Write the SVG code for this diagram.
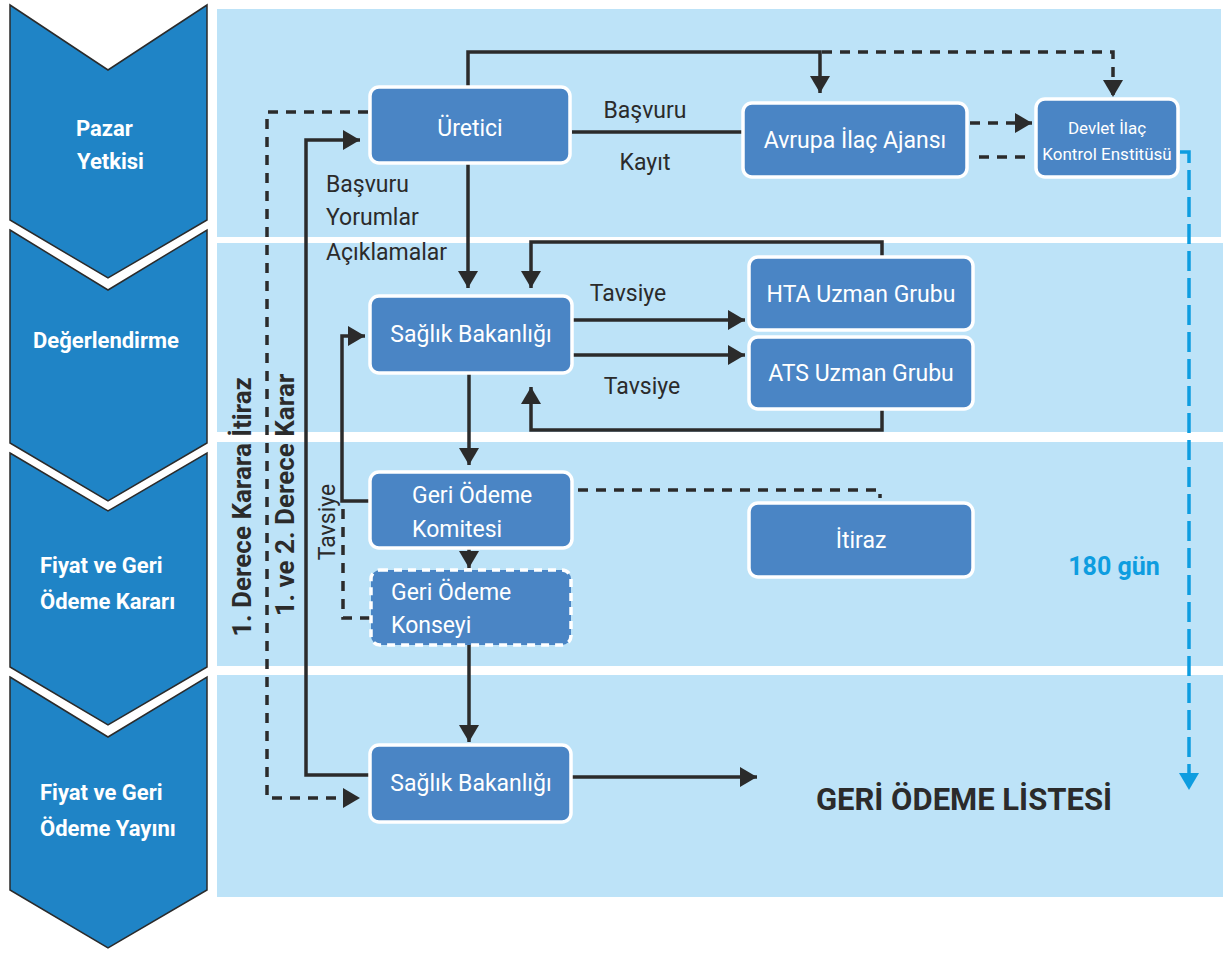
<svg xmlns="http://www.w3.org/2000/svg" width="1223" height="954" viewBox="0 0 1223 954">
  <style>
    .band { fill: #bde3f8; }
    .chev { fill: #1f84c6; stroke: #2b2b2b; stroke-width: 1.5; }
    .chevtxt { font-family: Roboto, "Liberation Sans", sans-serif; font-weight: bold; font-size: 22px; fill: #ffffff; }
    .box { fill: #4a85c5; stroke: #ffffff; stroke-width: 3.5; }
    .boxdash { fill: #4a85c5; stroke: #ffffff; stroke-width: 3.5; stroke-dasharray: 8 6; }
    .ntxt { font-family: Roboto, "Liberation Sans", sans-serif; font-size: 23px; fill: #ffffff; }
    .small { font-size: 17px; }
    .lbl { font-family: Roboto, "Liberation Sans", sans-serif; font-size: 23px; fill: #2b2b2b; }
    .vlbl { font-family: Roboto, "Liberation Sans", sans-serif; font-weight: bold; font-size: 26px; fill: #2b2b2b; }
    .line { fill: none; stroke: #2b2b2b; stroke-width: 3.5; }
    .dash { fill: none; stroke: #2b2b2b; stroke-width: 3.5; stroke-dasharray: 10 8; }
    .blue { fill: none; stroke: #0e9de0; stroke-width: 3.5; stroke-dasharray: 20 7; }
  </style>
  <defs>
    <marker id="arr" markerUnits="userSpaceOnUse" markerWidth="18" markerHeight="20" refX="17" refY="10" orient="auto">
      <path d="M0,0 L17,10 L0,20 Z" fill="#2b2b2b"/>
    </marker>
    <marker id="arrBlue" markerUnits="userSpaceOnUse" markerWidth="18" markerHeight="20" refX="17" refY="10" orient="auto">
      <path d="M0,0 L17,10 L0,20 Z" fill="#0e9de0"/>
    </marker>
  </defs>

  <rect width="1223" height="954" fill="#ffffff"/>

  <!-- stage bands -->
  <g id="bands">
    <rect class="band" x="217" y="9" width="1004" height="228"/>
    <rect class="band" x="217" y="243" width="1006" height="189"/>
    <rect class="band" x="217" y="442" width="1006" height="224"/>
    <rect class="band" x="217" y="675" width="1006" height="222"/>
  </g>

  <!-- stage chevrons -->
  <g id="stage-pazar">
    <path class="chev" d="M10,5 L108,70 L207,5 L207,220 L108,278 L10,220 Z"/>
    <text class="chevtxt" x="76" y="136">Pazar</text>
    <text class="chevtxt" x="77" y="169">Yetkisi</text>
  </g>
  <g id="stage-degerlendirme">
    <path class="chev" d="M10,230 L108,290 L207,230 L207,443 L108,501 L10,443 Z"/>
    <text class="chevtxt" x="33" y="348">Değerlendirme</text>
  </g>
  <g id="stage-karar">
    <path class="chev" d="M10,453 L108,511 L207,453 L207,667 L108,725 L10,667 Z"/>
    <text class="chevtxt" x="40" y="573">Fiyat ve Geri</text>
    <text class="chevtxt" x="40" y="609">Ödeme Kararı</text>
  </g>
  <g id="stage-yayin">
    <path class="chev" d="M10,677 L108,737 L207,677 L207,890 L108,948 L10,890 Z"/>
    <text class="chevtxt" x="40" y="800">Fiyat ve Geri</text>
    <text class="chevtxt" x="40" y="836">Ödeme Yayını</text>
  </g>

  <!-- connectors -->
  <g id="connectors">
    <!-- Üretici to Avrupa İlaç Ajansı (over the top) -->
    <path class="line" d="M468,87 V52 H820 V93" marker-end="url(#arr)"/>
    <path class="dash" d="M822,52 H1113 V97" marker-end="url(#arr)"/>
    <!-- Üretici – Avrupa İlaç Ajansı -->
    <path class="line" d="M572,132 H743"/>
    <!-- Avrupa İlaç Ajansı – Devlet İlaç Kontrol Enstitüsü -->
    <path class="dash" d="M970,123 H1032" marker-end="url(#arr)"/>
    <path class="dash" d="M979,157 H1027"/>
    <!-- 180 day track -->
    <path class="blue" d="M1180,152 H1189 V790" marker-end="url(#arrBlue)"/>
    <!-- Üretici to Sağlık Bakanlığı -->
    <path class="line" d="M468,163 V288" marker-end="url(#arr)"/>
    <!-- expert groups loops -->
    <path class="line" d="M882,257 V242 H531 V288" marker-end="url(#arr)"/>
    <path class="line" d="M572,320 H745" marker-end="url(#arr)"/>
    <path class="line" d="M572,355 H745" marker-end="url(#arr)"/>
    <path class="line" d="M882,409 V430 H531 V387" marker-end="url(#arr)"/>
    <!-- main vertical flow -->
    <path class="line" d="M469,373 V465" marker-end="url(#arr)"/>
    <path class="line" d="M469,530 V568" marker-end="url(#arr)"/>
    <path class="line" d="M469,645 V742" marker-end="url(#arr)"/>
    <!-- Geri Ödeme Komitesi back to Sağlık Bakanlığı -->
    <path class="line" d="M370,501 H342 V336 H365" marker-end="url(#arr)"/>
    <path class="dash" d="M370,618 H343 V503"/>
    <!-- Geri Ödeme Komitesi to İtiraz -->
    <path class="dash" d="M578,490 H880 V498"/>
    <!-- appeal routes -->
    <path class="line" d="M370,775 H306 V140 H360" marker-end="url(#arr)"/>
    <path class="dash" d="M368,112 H267 V798 H360" marker-end="url(#arr)"/>
    <!-- publication -->
    <path class="line" d="M571,777 H757" marker-end="url(#arr)"/>
  </g>

  <!-- connector labels -->
  <g id="labels">
    <text class="lbl" x="645" y="118" text-anchor="middle">Başvuru</text>
    <text class="lbl" x="645" y="170" text-anchor="middle">Kayıt</text>
    <text class="lbl" x="326" y="192">Başvuru</text>
    <text class="lbl" x="326" y="225">Yorumlar</text>
    <text class="lbl" x="326" y="260">Açıklamalar</text>
    <text class="lbl" x="628" y="301" text-anchor="middle">Tavsiye</text>
    <text class="lbl" x="642" y="394" text-anchor="middle">Tavsiye</text>
    <text class="lbl" transform="translate(335,522) rotate(-90)" text-anchor="middle">Tavsiye</text>
    <text class="vlbl" font-size="27.5" transform="translate(251,507) rotate(-90)" text-anchor="middle">1. Derece Karara İtiraz</text>
    <text class="vlbl" transform="translate(294,495) rotate(-90)" text-anchor="middle">1. ve 2. Derece Karar</text>
    <text x="1114" y="575" text-anchor="middle" font-family="Roboto, 'Liberation Sans', sans-serif" font-weight="bold" font-size="25" fill="#0e9de0">180 gün</text>
  </g>

  <!-- nodes -->
  <g id="uretici">
    <rect class="box" x="370" y="87" width="200" height="76" rx="9"/>
    <text class="ntxt" x="470" y="136" text-anchor="middle">Üretici</text>
  </g>
  <g id="avrupa-ilac-ajansi">
    <rect class="box" x="743" y="103" width="224" height="74" rx="9"/>
    <text class="ntxt" x="855" y="148" text-anchor="middle">Avrupa İlaç Ajansı</text>
  </g>
  <g id="devlet-ilac">
    <rect class="box" x="1036" y="99" width="142" height="78" rx="9"/>
    <text class="ntxt small" x="1107" y="134" text-anchor="middle">Devlet İlaç</text>
    <text class="ntxt small" x="1107" y="160" text-anchor="middle">Kontrol Enstitüsü</text>
  </g>
  <g id="hta-uzman">
    <rect class="box" x="749" y="257" width="224" height="73" rx="9"/>
    <text class="ntxt" x="861" y="302" text-anchor="middle">HTA Uzman Grubu</text>
  </g>
  <g id="ats-uzman">
    <rect class="box" x="749" y="337" width="224" height="72" rx="9"/>
    <text class="ntxt" x="861" y="381" text-anchor="middle">ATS Uzman Grubu</text>
  </g>
  <g id="saglik-bakanligi-1">
    <rect class="box" x="370" y="296" width="202" height="77" rx="9"/>
    <text class="ntxt" x="471" y="342" text-anchor="middle">Sağlık Bakanlığı</text>
  </g>
  <g id="geri-odeme-komitesi">
    <rect class="box" x="370" y="472" width="202" height="76" rx="9"/>
    <text class="ntxt" x="412" y="503">Geri Ödeme</text>
    <text class="ntxt" x="412" y="537">Komitesi</text>
  </g>
  <g id="geri-odeme-konseyi">
    <rect class="boxdash" x="371" y="570" width="200" height="75" rx="9"/>
    <text class="ntxt" x="391" y="600">Geri Ödeme</text>
    <text class="ntxt" x="391" y="633">Konseyi</text>
  </g>
  <g id="itiraz">
    <rect class="box" x="749" y="503" width="224" height="74" rx="9"/>
    <text class="ntxt" x="861" y="548" text-anchor="middle">İtiraz</text>
  </g>
  <g id="saglik-bakanligi-2">
    <rect class="box" x="370" y="745" width="201" height="77" rx="9"/>
    <text class="ntxt" x="471" y="791" text-anchor="middle">Sağlık Bakanlığı</text>
  </g>
  <g id="geri-odeme-listesi">
    <text x="964" y="810" text-anchor="middle" font-family="Roboto, 'Liberation Sans', sans-serif" font-weight="bold" font-size="31" fill="#2b2b2b">GERİ ÖDEME LİSTESİ</text>
  </g>
</svg>
